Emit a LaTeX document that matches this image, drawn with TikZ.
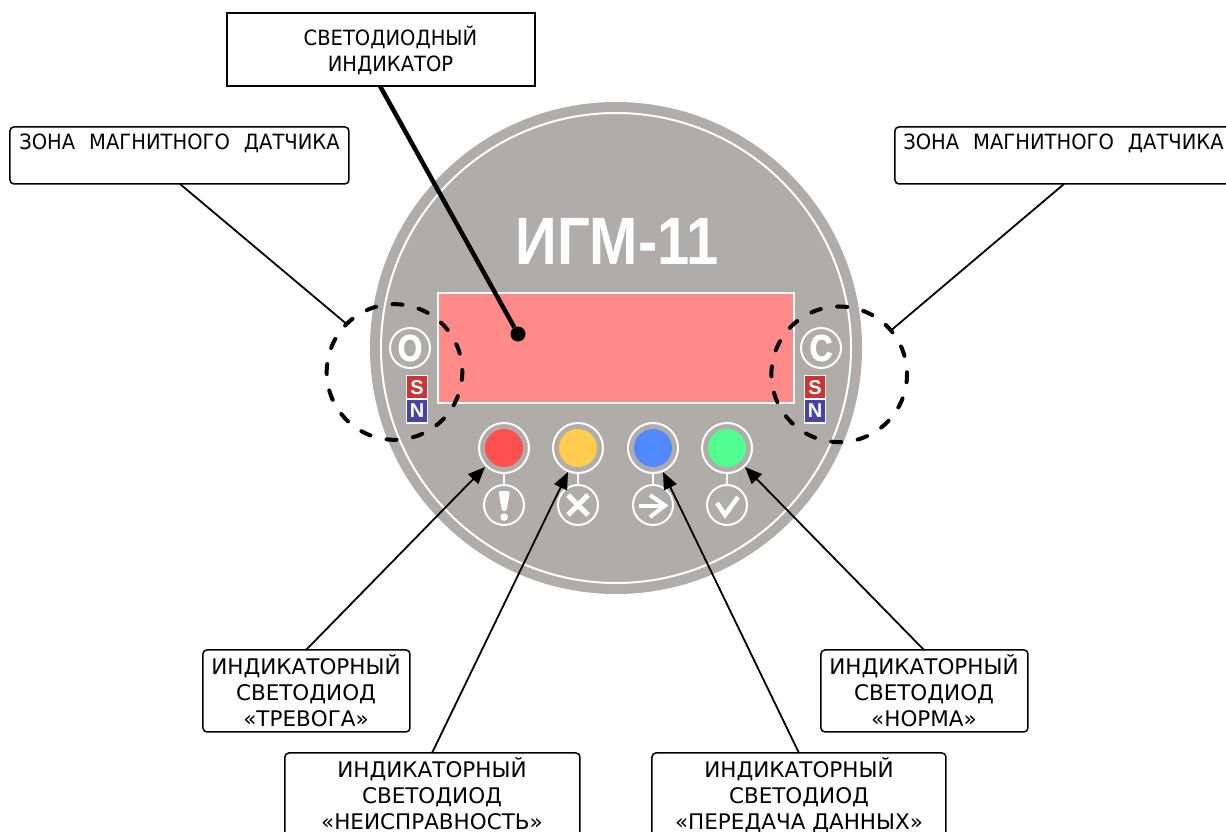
\documentclass[tikz,border=0pt]{standalone}
\usepackage{fontspec}
\setmainfont{DejaVu Sans}
\newfontfamily\narrowfont[FakeStretch=0.93]{DejaVu Sans}
\newfontfamily\titlefont[FakeStretch=0.865]{Liberation Sans Bold}
\newfontfamily\iconfont{Liberation Sans Bold}
\newfontfamily\keyfont[FakeStretch=0.85,FakeBold=2.5]{Liberation Sans Bold}
\usetikzlibrary{arrows.meta,calc}
\definecolor{body}{HTML}{B0ACAA}
\definecolor{disp}{HTML}{FF8A8A}
\definecolor{magS}{HTML}{CC3333}
\definecolor{magN}{HTML}{4444AA}
\newcommand{\wgap}{\hspace{14pt}}
\tikzset{
 x=1pt,y=-1pt,
 sqbox/.style={draw=black,line width=2pt,fill=white,minimum width=308pt,minimum height=73pt,inner sep=0pt},
 rbox/.style={draw=black,line width=1.5pt,fill=white,rounded corners=4pt,inner sep=0pt},
 label/.style={font=\fontsize{21.5}{26}\selectfont,align=center,inner sep=0pt,anchor=north},
 narrowlabel/.style={font=\narrowfont\fontsize{21}{26}\selectfont,align=center,inner sep=0pt,anchor=north},
 ledring/.style={circle,draw=white,line width=2pt,minimum size=50pt,inner sep=0pt},
 leddot/.style={circle,minimum size=38pt,inner sep=0pt},
 icon/.style={circle,draw=white,line width=2pt,minimum size=40pt,inner sep=0pt},
 stub/.style={draw=white,line width=2pt},
 glyph/.style={draw=white,line width=4.5pt},
 mag/.style={draw=white,line width=1.5pt,minimum width=21pt,minimum height=24pt,inner sep=0pt,text=white,font=\iconfont\fontsize{20}{20}\selectfont},
 zone/.style={draw=black,line width=4pt,line cap=round,dash pattern=on 10pt off 16.625pt,dash phase=18.3pt},
 lead/.style={draw=black,line width=1.8pt},
 point/.style={lead,-{Triangle[length=17pt,width=14pt]}},
 keyglyph/.style={text=white,inner sep=0pt,font=\keyfont\fontsize{37}{37}\selectfont},
}
\begin{document}
\begin{tikzpicture}
\useasboundingbox (0,0) rectangle (1226,832);
\fill[white] (0,0) rectangle (1226,832);
% body
\node[circle,fill=body,minimum size=492pt,inner sep=0pt] (body) at (616,348) {};
\node[circle,draw=white,line width=2pt,minimum size=470pt,inner sep=0pt] (ring) at (616,348) {};
\node[text=white,inner sep=0pt,font=\titlefont\fontsize{67}{67}\selectfont] (title) at (617,241) {ИГМ-11};
\node[draw=white,line width=2pt,fill=disp,minimum width=356pt,minimum height=110pt,inner sep=0pt] (display) at (616,348) {};
% LEDs
\foreach \n/\x/\c in {a/504/FF5050,b/578/FFCC50,c/653/5088FF,d/727/50FF90}{
  \definecolor{ledc}{HTML}{\c}
  \node[icon] (i\n) at (\x,505) {};
  \node[ledring] (r\n) at (\x,448) {};
  \node[leddot,fill=ledc] (l\n) at (\x,448) {};
  \draw[stub] (r\n) -- (i\n);
}
% icon glyphs
\fill[white,rounded corners=1.5pt] (498.5,491) -- (510,491) -- (506.5,511) -- (502,511) -- cycle;
\fill[white] (504.2,517) circle (3.8pt);
\draw[glyph,line width=5pt] (568,495) -- (588,515) (588,495) -- (568,515);
\draw[glyph,line width=4pt] (639,505.5) -- (665,505.5);
\draw[glyph,line width=4pt] (650,495) -- (665,505.5) -- (650,517);
\draw[glyph,line width=4.5pt] (717,503) -- (725,515) -- (738,497);
% O and C, magnets
\node[icon] (okey) at (410,348) {};
\node[keyglyph] (otext) at (410,348) {O};
\node[icon] (ckey) at (821,348) {};
\node[keyglyph] (ctext) at (821,348) {C};
\node[mag,fill=magS] (s1) at (417,387.5) {S};
\node[mag,fill=magN] (n1) at (417,411) {N};
\node[mag,fill=magS] (s2) at (815,387.5) {S};
\node[mag,fill=magN] (n2) at (815,411) {N};
% zones
\coordinate (zl) at (394.5,372);
\coordinate (zr) at (839.2,374.3);
\draw[zone] ($(zl)+(13.75:67.8)$) arc [start angle=13.75,delta angle=360,radius=67.8];
\draw[zone] ($(zr)+(13.75:67.8)$) arc [start angle=13.75,delta angle=360,radius=67.8];
% boxes
\node[sqbox,anchor=north west] (top) at (226.2,12.2) {};
\node[narrowlabel] at (390.5,26) {СВЕТОДИОДНЫЙ\\ИНДИКАТОР};
\node[rbox,anchor=north west,minimum width=339pt,minimum height=57pt] (zbl) at (9.2,126.2) {};
\node[narrowlabel] at (179.5,134) {ЗОНА\wgap МАГНИТНОГО\wgap ДАТЧИКА};
\node[rbox,anchor=north west,minimum width=345pt,minimum height=57pt] (zbr) at (894.2,126.2) {};
\node[narrowlabel] at (1063.5,134) {ЗОНА\wgap МАГНИТНОГО\wgap ДАТЧИКА};
\node[rbox,anchor=north west,minimum width=207pt,minimum height=82pt] (ba) at (202.2,649.2) {};
\node[label] at (306,654) {ИНДИКАТОРНЫЙ\\СВЕТОДИОД\\«ТРЕВОГА»};
\node[rbox,anchor=north west,minimum width=207pt,minimum height=82pt] (bd) at (820.2,649.2) {};
\node[label] at (924,654) {ИНДИКАТОРНЫЙ\\СВЕТОДИОД\\«НОРМА»};
\node[rbox,anchor=north west,minimum width=295pt,minimum height=90pt] (bb) at (284.2,752.2) {};
\node[label] at (432,757) {ИНДИКАТОРНЫЙ\\СВЕТОДИОД\\«НЕИСПРАВНОСТЬ»};
\node[rbox,anchor=north west,minimum width=294pt,minimum height=90pt] (bc) at (651.2,752.2) {};
\node[label] at (799,757) {ИНДИКАТОРНЫЙ\\СВЕТОДИОД\\«ПЕРЕДАЧА ДАННЫХ»};
% connectors
\coordinate (tl) at (346,323.5);
\coordinate (tr) at (891.5,330);
\coordinate (da) at (485,467);
\coordinate (db) at (568,472);
\coordinate (dc) at (663,472);
\coordinate (dd) at (745,467);
\node[circle,fill=black,minimum size=15pt,inner sep=0pt] (dot) at (518,334) {};
\draw[draw=black,line width=4.5pt] (380,86) -- (dot);
\draw[lead] (180,184) -- (tl);
\draw[lead] (1064,184) -- (tr);
\draw[point] (306,650) -- (da);
\draw[point] (432,753) -- (db);
\draw[point] (799,753) -- (dc);
\draw[point] (924,650) -- (dd);
\end{tikzpicture}
\end{document}
